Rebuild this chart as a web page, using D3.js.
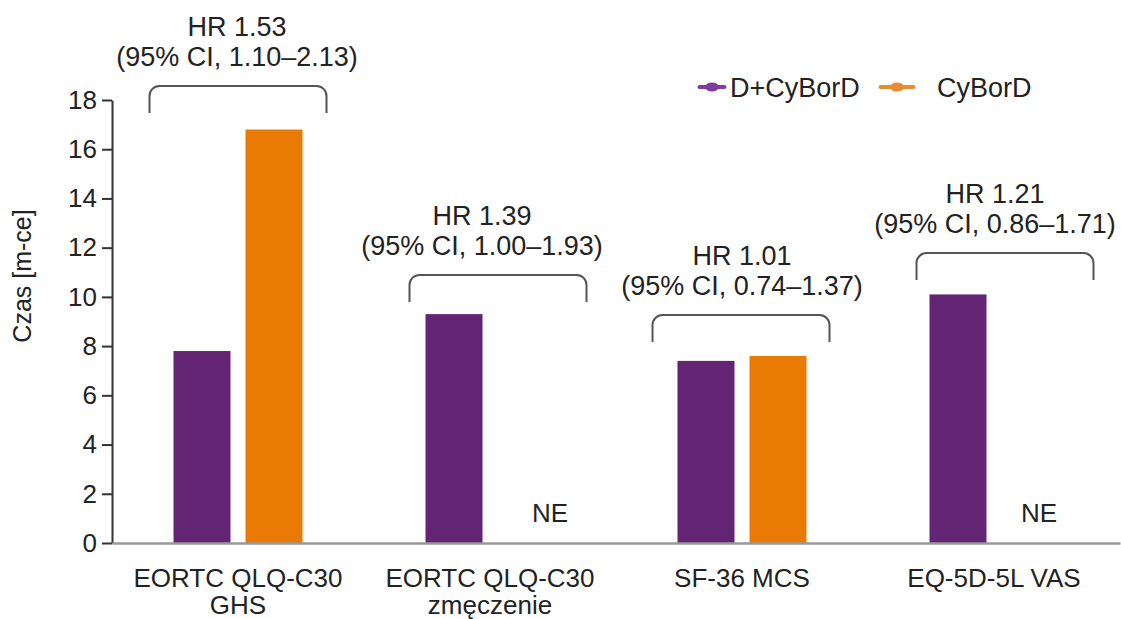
<!DOCTYPE html>
<html>
<head>
<meta charset="utf-8">
<script src="https://cdn.jsdelivr.net/npm/d3@7"></script>
<style>
  html, body { margin: 0; padding: 0; background: #fff; }
  svg { display: block; }
  text { font-family: "Liberation Sans", Arial, sans-serif; fill: #222; }
</style>
</head>
<body>
<svg id="chart" width="1121" height="619"></svg>
<script>
// ---- data ----
const categories = ["EORTC QLQ-C30|GHS", "EORTC QLQ-C30|zmęczenie", "SF-36 MCS", "EQ-5D-5L VAS"];
const seriesNames = ["D+CyBorD", "CyBorD"];
const dCyBorD = [7.8, 9.3, 7.4, 10.1];
const cyBorD = [16.8, null, 7.6, null];   // null = NE (not estimable)
const hrLabels = ["HR 1.53", "HR 1.39", "HR 1.01", "HR 1.21"];
const ciLabels = ["(95% CI, 1.10–2.13)", "(95% CI, 1.00–1.93)", "(95% CI, 0.74–1.37)", "(95% CI, 0.86–1.71)"];
const yTicks = [0, 2, 4, 6, 8, 10, 12, 14, 16, 18];
const yLabel = "Czas [m-ce]";

// ---- annotation layout (bracket level in data units, small x nudges in px) ----
const bracketLevel = [18.57, 10.89, 9.26, 11.78];
const bracketDx = [0, 8, -1, 11];
const textDx = [-1, -8, 0, 1];
const neDx = [0, 24, 0, 9];

const colors = { bar: ["#632473", "#e97a03"], legend: ["#7d3f9a", "#e98b31"] };

const svg = d3.select("#chart");
const margin = { left: 112, right: 1120, top: 100, bottom: 543 };

const x = d3.scaleBand().domain(categories).range([margin.left, margin.right]).padding(0);
const innerWidth = 144;
const x1 = d3.scaleBand().domain(seriesNames)
  .range([x.bandwidth() / 2 - innerWidth / 2, x.bandwidth() / 2 + innerWidth / 2])
  .paddingInner(15 / 72).paddingOuter(7.5 / 72);
const y = d3.scaleLinear().domain([0, 18]).range([margin.bottom, margin.top]);

// bars
const barData = [];
categories.forEach((c, i) => {
  [dCyBorD[i], cyBorD[i]].forEach((v, s) => {
    barData.push({ cat: c, s: s, name: seriesNames[s], v: v, i: i });
  });
});

svg.append("g").selectAll("rect")
  .data(barData.filter(d => d.v != null))
  .join("rect")
  .attr("x", d => x(d.cat) + x1(d.name))
  .attr("width", x1.bandwidth())
  .attr("y", d => y(d.v))
  .attr("height", d => y(0) - y(d.v))
  .attr("fill", d => colors.bar[d.s]);

// NE labels
svg.append("g").selectAll("text")
  .data(barData.filter(d => d.v == null))
  .join("text")
  .attr("x", d => x(d.cat) + x1(d.name) + x1.bandwidth() / 2 + neDx[d.i])
  .attr("y", y(0) - 21)
  .attr("text-anchor", "middle")
  .attr("font-size", 26)
  .text("NE");

// y axis
const yAxis = svg.append("g")
  .attr("transform", `translate(${margin.left},0)`)
  .call(d3.axisLeft(y).tickValues(yTicks).tickSize(10).tickSizeOuter(0).tickPadding(5));
yAxis.select(".domain").attr("stroke", "#333").attr("stroke-width", 2);
yAxis.selectAll(".tick line").attr("stroke", "#333").attr("stroke-width", 2);
yAxis.selectAll(".tick text").attr("font-size", 26).attr("font-family", "Liberation Sans, Arial, sans-serif").attr("fill", "#222");

// x axis
const xAxis = svg.append("g")
  .attr("transform", `translate(0,${y(0)})`)
  .call(d3.axisBottom(x).tickSize(0).tickSizeOuter(0).tickFormat(""));
xAxis.select(".domain").attr("stroke", "#999").attr("stroke-width", 2.5);

// category labels
const catG = svg.append("g");
categories.forEach(c => {
  const lines = c.split("|");
  const t = catG.append("text")
    .attr("x", x(c) + x.bandwidth() / 2)
    .attr("y", 587)
    .attr("text-anchor", "middle")
    .attr("font-size", 26);
  lines.forEach((l, k) => {
    t.append("tspan").attr("x", x(c) + x.bandwidth() / 2).attr("dy", k === 0 ? 0 : 27).text(l);
  });
});

// y label
svg.append("text")
  .attr("transform", `translate(31,276) rotate(-90)`)
  .attr("text-anchor", "middle")
  .attr("font-size", 25)
  .text(yLabel);

// brackets + HR labels
const bw = 177, bh = 27, r = 10;
const annG = svg.append("g");
categories.forEach((c, i) => {
  const cx = x(c) + x.bandwidth() / 2;
  const bx = cx + bracketDx[i];
  const top = y(bracketLevel[i]);
  const l = bx - bw / 2, rr = bx + bw / 2;
  const p = d3.path();
  p.moveTo(l, top + bh);
  p.lineTo(l, top + r);
  p.arcTo(l, top, l + r, top, r);
  p.lineTo(rr - r, top);
  p.arcTo(rr, top, rr, top + r, r);
  p.lineTo(rr, top + bh);
  annG.append("path").attr("d", p.toString())
    .attr("fill", "none").attr("stroke", "#555").attr("stroke-width", 2);
  annG.append("text")
    .attr("x", cx + textDx[i]).attr("y", top - 50)
    .attr("text-anchor", "middle").attr("font-size", 27)
    .text(hrLabels[i]);
  annG.append("text")
    .attr("x", cx + textDx[i]).attr("y", top - 20)
    .attr("text-anchor", "middle").attr("font-size", 27)
    .text(ciLabels[i]);
});

// legend
const legendItems = [
  { name: seriesNames[0], mx: 712, tx: 730, c: colors.legend[0], lw: 25 },
  { name: seriesNames[1], mx: 897, tx: 937, c: colors.legend[1], lw: 33 }
];
const lg = svg.append("g");
legendItems.forEach(d => {
  lg.append("line").attr("x1", d.mx - d.lw / 2).attr("x2", d.mx + d.lw / 2)
    .attr("y1", 87).attr("y2", 87).attr("stroke", d.c).attr("stroke-width", 4).attr("stroke-linecap", "round");
  lg.append("ellipse").attr("cx", d.mx).attr("cy", 87).attr("rx", 7).attr("ry", 4.5).attr("fill", d.c);
  lg.append("text").attr("x", d.tx).attr("y", 97).attr("font-size", 27).text(d.name);
});
</script>
</body>
</html>
